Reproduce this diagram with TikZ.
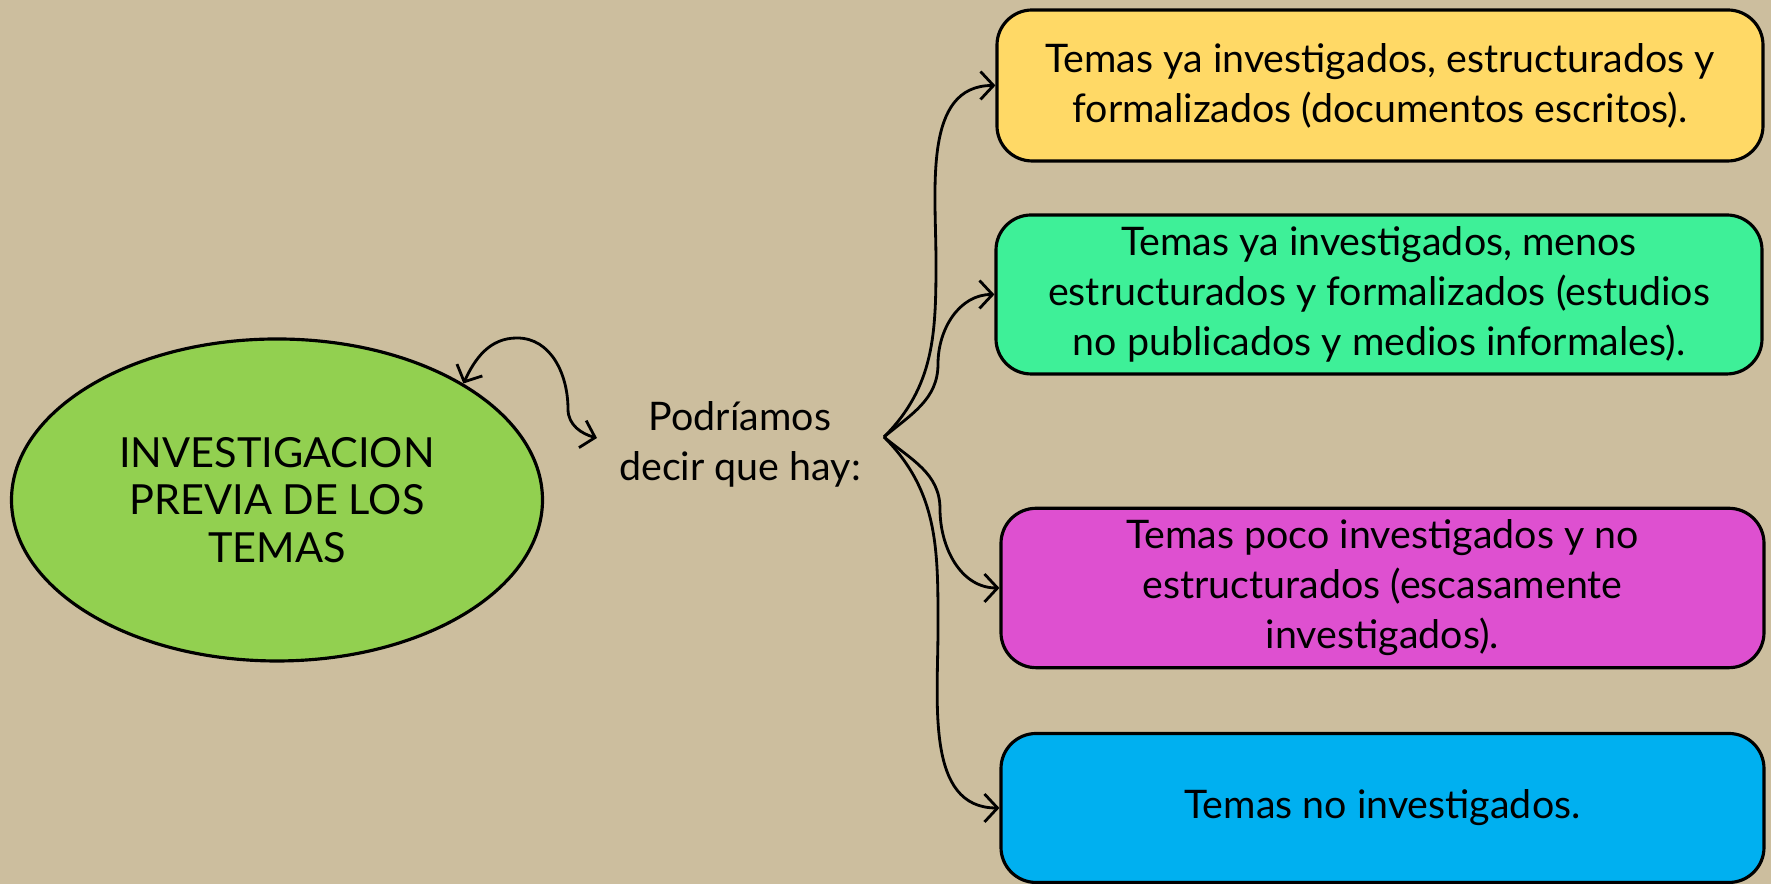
\documentclass[tikz,border=0pt]{standalone}
\usepackage{fontspec}
\setmainfont{Lato}
\usetikzlibrary{shapes, arrows.meta, positioning, calc}
\definecolor{burlap}{RGB}{204,190,158}
\definecolor{topicgreen}{RGB}{146,208,80}
\definecolor{boxyellow}{RGB}{255,217,102}
\definecolor{boxmint}{RGB}{62,240,152}
\definecolor{boxpink}{RGB}{222,80,208}
\definecolor{boxblue}{RGB}{0,176,240}

\tikzset{
  topicbox/.style={draw=black, line width=0.9pt, rounded corners=10pt, minimum height=1.51cm, minimum width=7.66cm, align=center, font=\fontsize{11.2}{14.2}\selectfont},
  fanarrow/.style={-{Straight Barb[length=1.3mm, width=2.8mm]}, line width=0.8pt},
}

\begin{document}
\begin{tikzpicture}
  \fill[burlap] (0,0) rectangle (17.71,8.84);
  \useasboundingbox (0,0) rectangle (17.71,8.84);

  \node[ellipse, draw=black, line width=0.9pt, fill=topicgreen, minimum width=5.31cm, minimum height=3.22cm, align=center, font=\fontsize{11.8}{13.6}\selectfont] (prev) at (2.77, 3.84) {INVESTIGACION\\PREVIA DE LOS\\TEMAS};

  \node[align=center, font=\fontsize{11.2}{14.2}\selectfont] (hay) at (7.40, 4.40) {Podríamos\\decir que hay:};

  \node[topicbox, fill=boxyellow] (formal) at (13.80, 7.985) {Temas ya investigados, estructurados y\\formalizados (documentos escritos).};
  \node[topicbox, fill=boxmint] (informal) at (13.79, 5.895) {Temas ya investigados, menos\\estructurados y formalizados (estudios\\no publicados y medios informales).};
  \node[topicbox, fill=boxpink, minimum width=7.63cm] (poco) at (13.825, 2.96) {Temas poco investigados y no\\estructurados (escasamente\\investigados).};
  \node[topicbox, fill=boxblue, minimum width=7.63cm, minimum height=1.49cm] (nada) at (13.825, 0.76) {Temas no investigados.};

  \coordinate (fan) at (8.84, 4.47);
  \coordinate (loopend) at (5.97, 4.46);

  % lazo entre la elipse y el texto
  \draw[{Straight Barb[length=1.3mm, width=2.8mm]}-{Straight Barb[length=1.3mm, width=2.8mm]}, line width=0.8pt]
    (prev.32) to[out=65, in=180] (5.17, 5.46) to[out=0, in=90] (5.68, 4.75) to[out=-90, in=165] (loopend);

  % abanico hacia las cajas
  \draw[fanarrow] (fan) to[out=45, in=-90] (9.36, 6.22) to[out=90, in=180] (formal.west);
  \draw[fanarrow] (fan) to[out=40, in=-90] (9.38, 5.20) to[out=90, in=180] (informal.west);
  \draw[fanarrow] (fan) to[out=-40, in=90] (9.40, 3.75) to[out=-90, in=180] (poco.west);
  \draw[fanarrow] (fan) to[out=-45, in=90] (9.38, 2.55) to[out=-90, in=180] (nada.west);
\end{tikzpicture}
\end{document}
